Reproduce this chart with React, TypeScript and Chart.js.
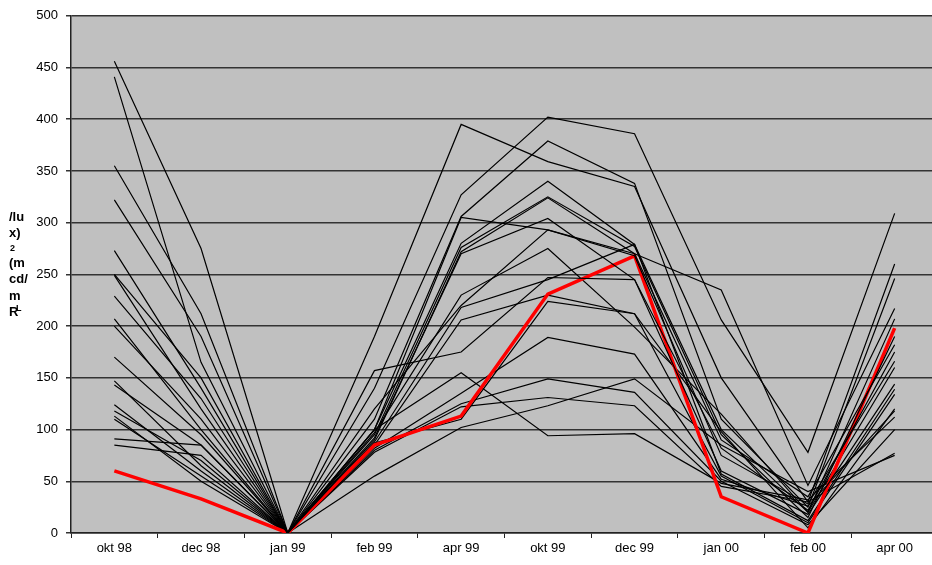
import React, { useEffect, useRef } from "react";
import { Chart, registerables } from "chart.js";

Chart.register(...registerables);

const categories = ["okt 98", "dec 98", "jan 99", "feb 99", "apr 99", "okt 99", "dec 99", "jan 00", "feb 00", "apr 00"];

const s01 = [456, 275, 0, 190, 395, 359, 335, 150, 30, 260];
const s02 = [441, 165, 0, 140, 327, 402, 386, 206, 78, 309];
const s03 = [355, 212, 0, 110, 306, 379, 338, 110, 25, 246];
const s04 = [322, 190, 0, 100, 305, 293, 270, 235, 46, 217];
const s05 = [273, 140, 0, 100, 280, 340, 279, 100, 20, 207];
const s06 = [250, 150, 0, 95, 276, 325, 277, 95, 15, 190];
const s07 = [249, 120, 0, 90, 272, 324, 270, 90, 35, 182];
const s08 = [229, 130, 0, 92, 270, 304, 245, 82, 22, 175];
const s09 = [207, 100, 0, 120, 220, 293, 268, 75, 28, 166];
const s10 = [200, 110, 0, 157, 175, 247, 245, 60, 18, 144];
const s11 = [170, 95, 0, 88, 218, 245, 279, 57, 12, 139];
const s12 = [147, 65, 0, 85, 206, 230, 212, 55, 10, 134];
const s13 = [143, 85, 0, 82, 135, 189, 173, 52, 26, 118];
const s14 = [124, 60, 0, 100, 155, 94, 96, 48, 32, 112];
const s15 = [118, 70, 0, 80, 125, 149, 136, 50, 8, 100];
const s16 = [113, 50, 0, 78, 122, 131, 123, 45, 30, 77];
const s17 = [110, 55, 0, 55, 102, 123, 149, 85, 40, 75];
const s18 = [91, 85, 0, 87, 110, 224, 212, 98, 5, 120];
const s19 = [85, 75, 0, 97, 230, 275, 199, 115, 20, 160];
const redSeries = [60, 33, 0, 85, 113, 231, 268, 35, 0, 198];

const blackSeries = [s01, s02, s03, s04, s05, s06, s07, s08, s09, s10, s11, s12, s13, s14, s15, s16, s17, s18, s19];

const yMin = 0;
const yMax = 500;
const yStep = 50;

const yTitleLines = ["/lu", "x)", "2", "(m", "cd/", "m", "R"];

const FONT = "Arial, 'Liberation Sans', sans-serif";

const plotBg = {
  id: "plotBg",
  beforeDraw(chart: any) {
    const { ctx, chartArea: a } = chart;
    ctx.save();
    ctx.fillStyle = "#C0C0C0";
    ctx.fillRect(a.left, a.top, a.right - a.left, a.bottom - a.top);
    ctx.restore();
  },
};

const yTitle = {
  id: "yTitle",
  afterDraw(chart: any) {
    const ctx = chart.ctx;
    ctx.save();
    ctx.fillStyle = "#000";
    ctx.textBaseline = "middle";
    ctx.textAlign = "left";
    const big = "bold 13px " + FONT;
    const small = "bold 9px " + FONT;
    const rows = [
      { t: yTitleLines[0], x: 9, y: 217, f: big },
      { t: yTitleLines[1], x: 9, y: 233, f: big },
      { t: yTitleLines[2], x: 10, y: 249, f: small },
      { t: yTitleLines[3], x: 9, y: 263, f: big },
      { t: yTitleLines[4], x: 9, y: 279, f: big },
      { t: yTitleLines[5], x: 9, y: 296, f: big },
      { t: yTitleLines[6], x: 9, y: 312, f: big },
      { t: "L", x: 16, y: 309, f: small },
    ];
    rows.forEach((r) => {
      ctx.font = r.f;
      ctx.fillText(r.t, r.x, r.y);
    });
    ctx.restore();
  },
};

export default function App() {
  const ref = useRef<HTMLCanvasElement | null>(null);

  useEffect(() => {
    if (!ref.current) return;
    const datasets: any[] = blackSeries.map((s, i) => ({
      label: "s" + (i + 1),
      data: s,
      borderColor: "#000000",
      borderWidth: 1.2,
      pointRadius: 0,
      fill: false,
      tension: 0,
    }));
    datasets.splice(10, 0, {
      label: "red",
      data: redSeries,
      borderColor: "#FF0000",
      borderWidth: 3.5,
      pointRadius: 0,
      fill: false,
      tension: 0,
    });

    const chart = new Chart(ref.current, {
      type: "line",
      data: { labels: categories, datasets },
      plugins: [plotBg, yTitle],
      options: {
        responsive: false,
        animation: false,
        devicePixelRatio: 1,
        events: [],
        layout: { padding: { top: 12, left: 0, right: 0, bottom: 0 } },
        plugins: {
          legend: { display: false },
          tooltip: { enabled: false },
          title: { display: false },
        },
        elements: { point: { radius: 0 }, line: { tension: 0 } },
        scales: {
          x: {
            type: "category",
            offset: true,
            grid: { offset: true, drawOnChartArea: false, drawTicks: true, tickLength: 5, color: "#222", lineWidth: 1 },
            border: { display: true, color: "#222", width: 1.5 },
            ticks: { color: "#000", font: { family: FONT, size: 13 }, padding: 3, maxRotation: 0, autoSkip: false },
            afterFit(scale: any) {
              scale.height = 32;
            },
          },
          y: {
            min: yMin,
            max: yMax,
            ticks: { stepSize: yStep, color: "#000", font: { family: FONT, size: 13 }, padding: 8 },
            grid: { color: "#333", lineWidth: 1.5, tickLength: 5, drawTicks: true },
            border: { display: true, color: "#222", width: 1.5 },
            afterFit(scale: any) {
              scale.width = 71;
            },
          },
        },
      } as any,
    });
    return () => chart.destroy();
  }, []);

  return (
    <div style={{ position: "fixed", left: 0, top: 0, width: 932, height: 565, overflow: "hidden", background: "#fff" }}>
      <canvas ref={ref} width={938} height={565} style={{ width: 938, height: 565, display: "block" }} />
    </div>
  );
}
